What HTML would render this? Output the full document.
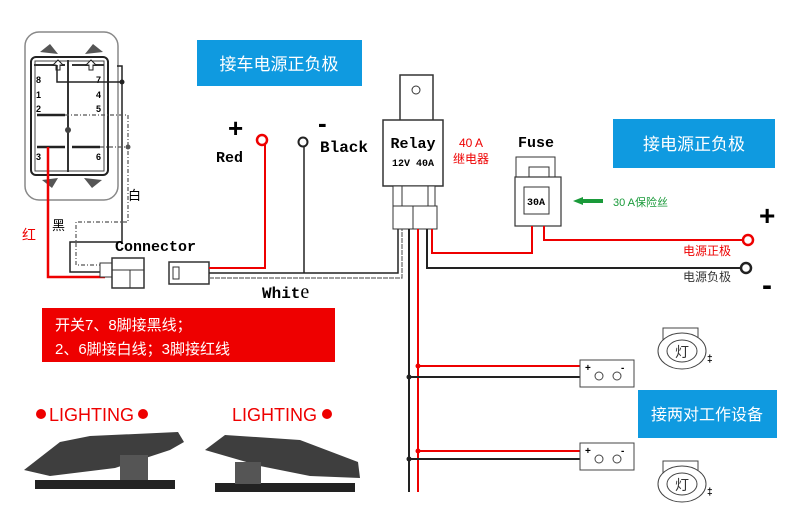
<!DOCTYPE html>
<html><head><meta charset="utf-8"><style>
body{margin:0;background:#fff}
svg{display:block}
text{font-family:"Liberation Sans","Noto Sans CJK SC",sans-serif}
.mono{font-family:"Liberation Mono",monospace;font-weight:bold}
</style></head><body>
<svg width="798" height="512" viewBox="0 0 798 512" xmlns="http://www.w3.org/2000/svg">
<rect width="798" height="512" fill="#fff"/>
<!-- switch -->
<rect x="25" y="32" width="93" height="168" rx="14" fill="#fff" stroke="#888" stroke-width="1.5"/>
<rect x="31" y="57" width="77" height="118" rx="5" fill="#fff" stroke="#222" stroke-width="2"/>
<rect x="35" y="61" width="69" height="110" fill="none" stroke="#444" stroke-width="1"/>
<line x1="68" y1="60" x2="68" y2="172" stroke="#333" stroke-width="2"/>
<line x1="34" y1="65" x2="65" y2="65" stroke="#333" stroke-width="2"/>
<line x1="72" y1="65" x2="104" y2="65" stroke="#333" stroke-width="2"/>
<line x1="37" y1="115" x2="65" y2="115" stroke="#222" stroke-width="2.5"/>
<line x1="37" y1="147" x2="65" y2="147" stroke="#222" stroke-width="2.5"/>
<line x1="72" y1="147" x2="100" y2="147" stroke="#222" stroke-width="2.5"/>
<circle cx="68" cy="130" r="3" fill="#444"/>
<text x="36" y="83" font-size="9" font-weight="bold">8</text><text x="96" y="83" font-size="9" font-weight="bold">7</text>
<text x="36" y="98" font-size="9" font-weight="bold">1</text><text x="96" y="98" font-size="9" font-weight="bold">4</text>
<text x="36" y="112" font-size="9" font-weight="bold">2</text><text x="96" y="112" font-size="9" font-weight="bold">5</text>
<text x="36" y="160" font-size="9" font-weight="bold">3</text><text x="96" y="160" font-size="9" font-weight="bold">6</text>
<path d="M56 70 v-5 h-3 l5-5 5 5 h-3 v5z M89 70 v-5 h-3 l5-5 5 5 h-3 v5z" fill="#fff" stroke="#222"/>
<path d="M40 52 l10-8 8 10z M85 54 l8-10 10 8z M42 180 l10 8 6-10z M84 178 l8 10 10-8z" fill="#555"/>
<!-- switch wires -->
<path d="M57 65 V82 H122 M117 66 H122 V242 H70 V272 H105" fill="none" stroke="#222" stroke-width="1.5"/>
<circle cx="122" cy="82" r="2.5" fill="#222"/>
<path d="M65 115 H128 V222 H76 V265 H105 M100 147 H128" fill="none" stroke="#555" stroke-width="1.2" stroke-dasharray="4,2,1,2"/>
<circle cx="128" cy="147" r="2.5" fill="#555"/>
<path d="M48 147 V277 H105" fill="none" stroke="#e00" stroke-width="2.5"/>
<text x="128" y="200" font-size="13">白</text>
<text x="52" y="230" font-size="13">黑</text>
<text x="22" y="240" font-size="14" fill="#e00">红</text>
<!-- connector -->
<text x="115" y="251" class="mono" font-size="15">Connector</text>
<rect x="100" y="263" width="12" height="14" fill="#fff" stroke="#333"/>
<rect x="112" y="258" width="32" height="30" fill="#fff" stroke="#333" stroke-width="1.5"/>
<line x1="112" y1="270" x2="144" y2="270" stroke="#333"/><line x1="130" y1="270" x2="130" y2="288" stroke="#333"/>
<rect x="169" y="262" width="40" height="22" fill="#fff" stroke="#333" stroke-width="1.5"/>
<rect x="173" y="267" width="6" height="12" fill="none" stroke="#333"/>
<!-- wires from connector -->
<path d="M209 268 H265 V142" fill="none" stroke="#e00" stroke-width="2"/>
<circle cx="262" cy="140" r="5" fill="#fff" stroke="#e00" stroke-width="2.5"/>
<path d="M209 273 H398 V225" fill="none" stroke="#222" stroke-width="1.5"/>
<path d="M209 278 H402 V225" fill="none" stroke="#666" stroke-width="1.2" stroke-dasharray="5,1"/>
<line x1="304" y1="147" x2="304" y2="273" stroke="#222" stroke-width="1.5"/>
<circle cx="303" cy="142" r="4.5" fill="#fff" stroke="#222" stroke-width="2"/>
<text x="228" y="137" font-size="26" font-weight="bold">+</text>
<text x="216" y="162" class="mono" font-size="15">Red</text>
<text x="318" y="132" font-size="26" font-weight="bold">-</text>
<text x="320" y="152" class="mono" font-size="16">Black</text>
<text x="262" y="298" class="mono" font-size="16">Whit<tspan font-family="Liberation Serif" font-weight="normal" font-size="20">e</tspan></text>
<!-- blue boxes -->
<rect x="197" y="40" width="165" height="46" fill="#0f9ae0"/>
<text x="279" y="70" font-size="17" fill="#fff" text-anchor="middle">接车电源正负极</text>
<rect x="613" y="119" width="162" height="49" fill="#0f9ae0"/>
<text x="694" y="150" font-size="17" fill="#fff" text-anchor="middle">接电源正负极</text>
<rect x="638" y="390" width="139" height="48" fill="#0f9ae0"/>
<text x="707" y="420" font-size="16" fill="#fff" text-anchor="middle">接两对工作设备</text>
<!-- red note -->
<rect x="42" y="308" width="293" height="54" fill="#e00"/>
<text x="55" y="330" font-size="15" fill="#fff">开关7、8脚接黑线；</text>
<text x="55" y="354" font-size="15" fill="#fff">2、6脚接白线；3脚接红线</text>
<!-- relay -->
<rect x="400" y="75" width="33" height="46" fill="#fff" stroke="#333" stroke-width="1.5"/>
<circle cx="416" cy="90" r="4" fill="#fff" stroke="#333"/>
<rect x="383" y="120" width="60" height="66" fill="#fff" stroke="#333" stroke-width="1.5"/>
<text x="413" y="148" class="mono" font-size="15" text-anchor="middle">Relay</text>
<text x="413" y="166" class="mono" font-size="10" text-anchor="middle">12V 40A</text>
<rect x="393" y="186" width="42" height="20" fill="#fff" stroke="#333"/>
<line x1="402" y1="186" x2="402" y2="206" stroke="#333"/><line x1="428" y1="186" x2="428" y2="206" stroke="#333"/>
<rect x="393" y="206" width="44" height="23" fill="#fff" stroke="#333"/>
<line x1="413" y1="206" x2="413" y2="229" stroke="#333"/>
<text x="459" y="147" font-size="12" fill="#e00">40 A</text>
<text x="453" y="163" font-size="12" fill="#e00">继电器</text>
<!-- fuse -->
<text x="518" y="147" class="mono" font-size="15">Fuse</text>
<path d="M516 185 V157 H555 V185 Z" fill="#fff" stroke="#333"/>
<rect x="529" y="167" width="20" height="10" fill="#fff" stroke="#333"/>
<rect x="515" y="177" width="46" height="49" fill="#fff" stroke="#333" stroke-width="1.2"/>
<rect x="524" y="187" width="25" height="27" fill="#fff" stroke="#333"/>
<text x="536" y="205" class="mono" font-size="10" text-anchor="middle">30A</text>
<path d="M573 201 l10-4 v2 h20 v4 h-20 v2z" fill="#1a9a3a"/>
<text x="613" y="206" font-size="11" fill="#1a9a3a">30 A保险丝</text>
<!-- power wires -->
<path d="M432 229 V253 H532 V226" fill="none" stroke="#e00" stroke-width="2"/>
<path d="M544 226 V240 H743" fill="none" stroke="#e00" stroke-width="2"/>
<circle cx="748" cy="240" r="5" fill="#fff" stroke="#e00" stroke-width="2.5"/>
<path d="M427 229 V268 H741" fill="none" stroke="#222" stroke-width="2"/>
<circle cx="746" cy="268" r="5" fill="#fff" stroke="#222" stroke-width="2.5"/>
<text x="759" y="225" font-size="28" font-weight="bold">+</text>
<text x="762" y="295" font-size="30" font-weight="bold">-</text>
<text x="683" y="255" font-size="12" fill="#e00">电源正极</text>
<text x="683" y="281" font-size="12" fill="#333">电源负极</text>
<!-- vertical -->
<line x1="409" y1="229" x2="409" y2="492" stroke="#222" stroke-width="2"/>
<line x1="418" y1="229" x2="418" y2="492" stroke="#e00" stroke-width="2"/>
<path d="M418 366 H580 M418 451 H580" stroke="#e00" stroke-width="2"/>
<path d="M409 377 H580 M409 459 H580" stroke="#222" stroke-width="2"/>
<circle cx="418" cy="366" r="2.5" fill="#e00"/><circle cx="409" cy="377" r="2.5" fill="#222"/>
<circle cx="418" cy="451" r="2.5" fill="#e00"/><circle cx="409" cy="459" r="2.5" fill="#222"/>
<!-- devices -->
<g id="dev"><rect x="580" y="360" width="54" height="27" fill="#fff" stroke="#444"/>
<text x="585" y="371" font-size="10" font-weight="bold">+</text><text x="621" y="371" font-size="10" font-weight="bold">-</text>
<circle cx="599" cy="376" r="4" fill="none" stroke="#444"/><circle cx="617" cy="376" r="4" fill="none" stroke="#444"/></g>
<use href="#dev" y="83"/>
<g id="lamp"><path d="M663 340 V328 H698 V340" fill="none" stroke="#444"/>
<ellipse cx="682" cy="351" rx="24" ry="18" fill="#fff" stroke="#444"/>
<ellipse cx="682" cy="351" rx="15" ry="11" fill="none" stroke="#444"/>
<text x="682" y="357" font-size="14" text-anchor="middle" fill="#333">灯</text>
<text x="707" y="362" font-size="10" font-weight="bold">‡</text></g>
<use href="#lamp" y="133"/>
<!-- lighting -->
<circle cx="41" cy="414" r="5" fill="#e00"/>
<text x="49" y="421" font-size="18" fill="#e00" textLength="85" lengthAdjust="spacingAndGlyphs">LIGHTING</text>
<circle cx="143" cy="414" r="5" fill="#e00"/>
<text x="232" y="421" font-size="18" fill="#e00" textLength="85" lengthAdjust="spacingAndGlyphs">LIGHTING</text>
<circle cx="327" cy="414" r="5" fill="#e00"/>
<!-- rocker images -->
<rect x="35" y="480" width="140" height="9" fill="#222"/>
<path d="M24 470 L60 442 L90 436 L178 432 L184 442 L170 450 L115 468 L50 476 Z" fill="#3e3e3e"/>
<rect x="120" y="455" width="28" height="25" fill="#555"/>
<rect x="215" y="483" width="140" height="9" fill="#222"/>
<path d="M205 450 L225 435 L300 440 L358 462 L360 478 L310 476 L260 466 Z" fill="#3e3e3e"/>
<rect x="235" y="462" width="26" height="22" fill="#555"/>
</svg>
</body></html>
